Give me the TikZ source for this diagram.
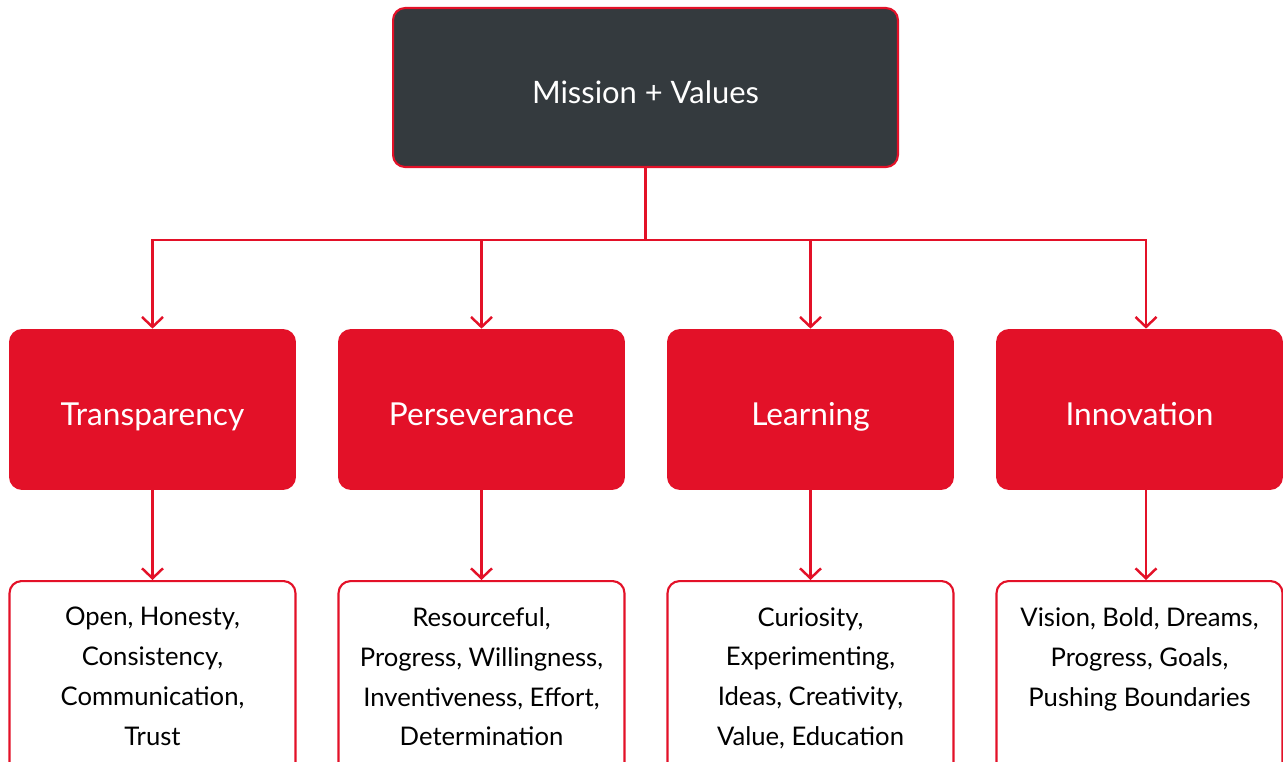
\documentclass[tikz,border=0pt]{standalone}
\usepackage{fontspec}
\setmainfont{Lato}
\usetikzlibrary{arrows.meta}
\definecolor{valred}{HTML}{E31128}
\definecolor{valdark}{HTML}{343A3E}

\begin{document}
\begin{tikzpicture}[x=0.02cm,y=-0.02cm]

\tikzset{
    mission/.style={draw=valred,line width=1.2pt,fill=valdark,rounded corners=0.24cm,
        minimum width=10.1cm,minimum height=3.18cm,text=white,font=\fontsize{17.6}{21}\selectfont,
        text height=23.8pt,text depth=5.7pt},
    value/.style={fill=valred,rounded corners=0.26cm,minimum width=5.74cm,minimum height=3.22cm,
        text=white,font=\fontsize{18}{21}\selectfont,text height=23.8pt,text depth=5.7pt},
    traits/.style={draw=valred,line width=1.2pt,fill=white,rounded corners=0.24cm,
        minimum width=5.72cm,minimum height=4.4cm,anchor=north},
    words/.style={anchor=north,align=center,inner sep=0pt,font=\fontsize{14.6}{22.7}\selectfont},
    link/.style={valred,line width=1.4pt},
    arrowlink/.style={link,-{Straight Barb[length=0.2cm,width=0.42cm]}}}

\useasboundingbox (0,0) rectangle (1283,761);
\clip (0,0) rectangle (1283,761);

\node[mission] (mv) at (645.5,87.5) {Mission + Values};
\coordinate (bus) at (645.5,240);

\node[value] (t) at (152.5,409.5) {Transparency};
\node[value] (p) at (481.5,409.5) {Perseverance};
\node[value] (l) at (810.5,409.5) {Learning};
\node[value] (i) at (1139.5,409.5) {Innovation};

\node[traits] (tb) at (152.5,580) {};
\node[traits] (pb) at (481.5,580) {};
\node[traits] (lb) at (810.5,580) {};
\node[traits] (ib) at (1139.5,580) {};

\node[words] (tw) at (152.5,607) {Open, Honesty,\\Consistency,\\Communication,\\Trust};
\node[words] (pw) at (481.5,607) {Resourceful,\\Progress, Willingness,\\Inventiveness, Effort,\\Determination};
\node[words] (lw) at (810.5,607) {Curiosity,\\Experimenting,\\Ideas, Creativity,\\Value, Education};
\node[words] (iw) at (1139.5,607) {Vision, Bold, Dreams,\\Progress, Goals,\\Pushing Boundaries};

\draw[link] (mv.south) -- (bus);
\draw[arrowlink] (bus) -| (t.north);
\draw[arrowlink] (bus) -| (p.north);
\draw[arrowlink] (bus) -| (l.north);
\draw[arrowlink] (bus) -| ([xshift=0.13cm]i.north);

\draw[arrowlink] (t) -- (tb);
\draw[arrowlink] (p) -- (pb);
\draw[arrowlink] (l) -- (lb);
\draw[arrowlink] ([xshift=0.13cm]i.south) -- ([xshift=0.13cm]ib.north);

\end{tikzpicture}
\end{document}
